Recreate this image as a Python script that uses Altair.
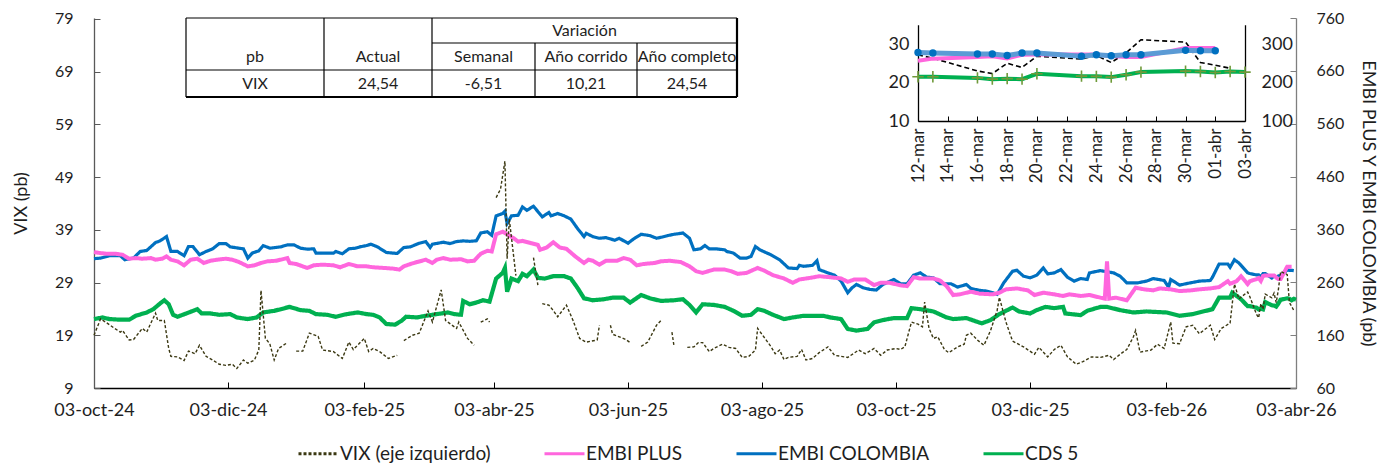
import altair as alt
import pandas as pd
from datetime import date, timedelta

# ---------------- data ----------------
START = date(2024, 10, 3)   # day 0 of the main chart
SERIES = ["VIX (eje izquierdo)", "EMBI PLUS", "EMBI COLOMBIA", "CDS 5"]

vix_days = [0, 3, 6, 9, 12, 13, 16, 18, 22, 24, 28, 29, 32, 34, 35, 38, 41, 43, 46, 48,
            51, 54, 57, 60, 63, 65, 68, 70, 73, 75, 76, 78, 80, 82, 84, 88, 90, 92, 95, 98,
            102, 104, 109, 113, 116, 118, 123, 125, 127, 130, 134, 138, 139, 141, 145, 148, 152, 154, 158, 160,
            165, 166, 170, 173, 174, 176, 179, 180, 181, 183, 185, 187, 188, 189, 192, 194, 200, 202, 203, 204,
            207, 209, 211, 215, 218, 221, 224, 229, 230, 232, 235, 236, 242, 244, 246, 249, 252, 256, 258, 260,
            263, 264, 267, 270, 273, 275, 277, 280, 282, 286, 289, 292, 295, 298, 301, 302, 308, 310, 312, 314,
            316, 320, 322, 324, 327, 330, 334, 337, 340, 343, 348, 351, 355, 358, 361, 365, 367, 369, 372, 375,
            377, 378, 380, 382, 384, 387, 389, 393, 396, 397, 399, 402, 405, 408, 411, 412, 415, 418, 423, 428,
            430, 434, 437, 440, 443, 447, 450, 454, 458, 462, 464, 467, 470, 473, 474, 476, 481, 484, 487, 490,
            491, 494, 497, 500, 503, 508, 510, 513, 517, 519, 521, 525, 526, 529, 530, 531, 532, 533, 536, 537,
            538, 539, 540, 543, 544, 545, 546]
vix_vals = [19.0, 22.1, 21.3, 20.4, 19.6, 19.9, 18.1, 18.2, 20.3, 19.6, 23.2, 21.8, 21.8, 16.5, 15.0, 14.9, 14.2, 16.0, 15.5, 17.1,
            15.0, 14.3, 13.5, 13.3, 13.5, 12.7, 14.3, 13.7, 14.3, 16.2, 27.5, 18.4, 17.4, 14.3, 16.5, 17.6, None, 16.0, 16.0, 19.4,
            18.8, 16.2, 15.9, 14.6, 17.7, 16.3, 18.4, 15.9, 16.5, 15.9, 14.6, 15.2, None, 18.0, 19.0, 19.4, 23.6, 21.5, 27.6, 21.8,
            20.3, 21.5, 18.4, 17.1, None, 21.5, 22.1, 21.5, None, 45.1, 46.7, 52.0, 33.5, 41.0, 30.3, None, 33.7, 28.5, None, 25.0,
            24.7, 23.7, 22.5, 24.7, 21.8, 18.4, 17.7, 18.1, 20.9, None, 20.9, 19.2, 18.2, 17.6, None, 16.9, 17.7, 20.9, 21.8, None,
            19.6, 16.8, None, 16.7, 16.8, 17.6, 17.6, 15.9, 16.5, 17.3, 16.7, 16.5, 14.8, 15.0, 16.2, 20.3, 16.9, 15.5, 16.2, 14.4,
            14.8, 15.0, 16.3, 14.3, 14.6, 15.7, 16.8, 15.2, 15.0, 14.8, 16.2, 15.5, 16.5, 15.2, 16.2, 16.5, 16.3, 16.8, 21.5, 21.1,
            20.6, 25.3, 20.3, 18.4, 18.7, 16.3, 15.7, 16.8, 17.3, 19.0, 19.4, 18.1, 17.1, 19.9, 23.7, 26.2, 21.5, 17.9, 16.8, 15.4,
            16.7, 14.9, 16.3, 17.1, 14.9, 13.5, 14.0, 14.9, 14.8, 15.2, 14.4, 15.4, 16.3, 18.7, 19.9, 15.8, 16.2, 17.3, 16.5, 21.5,
            17.5, 17.4, 20.6, 20.9, 19.3, 20.9, 18.2, 20.3, 21.3, 28.7, 25.9, 27.2, 26.3, 23.0, 22.3, 25.0, 23.9, 26.8, 26.1, 27.0,
            25.2, 27.7, 31.1, 30.5, 25.2, 24.5, 23.7]

embi_col_days = [0, 3, 7, 12, 14, 18, 21, 24, 28, 30, 33, 35, 38, 41, 43, 45, 48, 51, 54, 57,
                 60, 62, 66, 68, 70, 72, 75, 77, 80, 85, 88, 91, 94, 97, 100, 101, 106, 109, 110, 113,
                 116, 119, 121, 124, 126, 129, 133, 136, 138, 141, 144, 148, 151, 153, 154, 159, 162, 165, 168, 171,
                 174, 176, 179, 181, 183, 186, 187, 188, 190, 193, 195, 197, 200, 204, 207, 208, 211, 214, 217, 220,
                 223, 224, 227, 230, 233, 237, 239, 243, 246, 249, 253, 256, 258, 261, 264, 268, 271, 273, 276, 278,
                 280, 283, 287, 288, 291, 294, 297, 299, 301, 303, 308, 312, 316, 320, 321, 323, 327, 329, 330, 334,
                 337, 340, 343, 345, 347, 350, 353, 356, 359, 364, 367, 370, 373, 376, 379, 382, 385, 390, 393, 397,
                 399, 403, 406, 409, 411, 414, 418, 420, 423, 426, 429, 432, 434, 437, 440, 443, 446, 449, 452, 453,
                 458, 464, 467, 470, 475, 479, 482, 487, 489, 490, 494, 499, 503, 508, 509, 512, 516, 517, 519, 521,
                 525, 526, 529, 530, 531, 532, 533, 536, 537, 538, 539, 540, 543, 544, 545, 546]
embi_col_vals = [304.6, 305.8, 310.2, 310.2, 302.7, 305.8, 318.3, 320.2, 335.2, 338.3, 346.4, 318.3, 318.3, 310.2, 327.7, 327.7, 312.1, 318.3, 323.3, 333.3,
                 333.3, 327.0, 324.5, 323.3, 305.8, 315.2, 319.6, 329.5, 324.5, 327.0, 330.8, 330.8, 324.5, 322.7, 323.3, 315.2, 315.2, 315.2, 318.3, 313.9,
                 323.3, 324.5, 327.0, 329.5, 332.0, 327.0, 316.4, 315.2, 314.6, 325.8, 327.0, 333.9, 337.0, 325.8, 332.0, 335.8, 333.3, 337.0, 338.3, 337.5,
                 338.5, 353.3, 355.7, 349.0, 385.7, 390.1, 394.4, 371.3, 385.7, 386.9, 402.5, 396.3, 403.8, 383.8, 392.0, 385.7, 390.1, 385.7, 379.5, 362.0,
                 346.4, 352.6, 346.4, 343.3, 344.5, 339.5, 343.3, 333.9, 343.3, 350.8, 348.3, 343.3, 345.1, 348.3, 350.8, 353.2, 343.3, 321.4, 323.3, 329.5,
                 323.3, 323.3, 321.4, 318.3, 315.2, 305.8, 305.8, 308.9, 327.7, 321.4, 312.1, 302.7, 287.1, 285.9, 292.1, 290.2, 292.1, 300.8, 284.0, 277.8,
                 273.4, 262.2, 240.3, 249.7, 255.9, 249.7, 246.6, 245.3, 255.9, 265.3, 257.2, 257.2, 273.4, 277.8, 269.6, 268.4, 257.2, 257.2, 250.9, 255.9,
                 248.4, 244.7, 243.4, 240.3, 237.2, 259.0, 280.9, 282.7, 271.5, 268.4, 273.4, 287.1, 275.9, 277.8, 284.0, 269.6, 262.2, 267.1, 265.3, 277.8,
                 282.1, 277.8, 271.5, 259.0, 259.0, 262.2, 267.1, 263.4, 250.9, 265.3, 254.7, 259.0, 262.2, 263.4, 269.6, 294.6, 294.6, 288.4, 302.7, 296.5,
                 278.0, 276.5, 274.0, 274.0, 270.0, 276.5, 276.5, 268.0, 272.0, 269.5, 272.0, 272.0, 283.5, 282.6, 282.6, 282.0]

embi_plus_days = [0, 3, 6, 10, 13, 16, 19, 22, 26, 28, 31, 33, 35, 38, 41, 44, 47, 50, 53, 56,
                  60, 63, 66, 70, 73, 76, 79, 83, 88, 89, 92, 95, 97, 100, 104, 109, 112, 116, 120, 124,
                  127, 132, 136, 139, 141, 144, 147, 151, 154, 156, 159, 162, 167, 170, 173, 176, 179, 181, 183, 186,
                  188, 191, 193, 195, 199, 202, 203, 206, 209, 212, 215, 219, 223, 225, 227, 230, 233, 238, 241, 244,
                  247, 250, 255, 258, 262, 267, 271, 274, 277, 282, 287, 290, 293, 297, 302, 305, 309, 314, 318, 321,
                  326, 330, 335, 340, 343, 346, 351, 355, 358, 362, 367, 370, 373, 376, 382, 385, 388, 391, 394, 399,
                  403, 409, 412, 415, 420, 425, 428, 432, 437, 441, 444, 449, 453, 458, 460, 461, 462, 465, 470, 474,
                  478, 482, 485, 490, 494, 499, 503, 508, 512, 516, 517, 520, 522, 525, 526, 529, 530, 531, 532, 533,
                  536, 537, 538, 539, 540, 543, 544, 545]
embi_plus_vals = [317.1, 315.2, 313.9, 313.9, 312.1, 304.6, 305.8, 304.6, 305.8, 302.7, 304.6, 308.9, 302.7, 299.6, 292.1, 302.7, 304.6, 296.5, 300.8, 302.7,
                  304.6, 302.7, 298.3, 290.2, 292.1, 296.5, 299.6, 300.8, 305.8, 296.5, 294.6, 290.2, 287.1, 292.1, 293.4, 292.1, 288.4, 294.6, 290.2, 290.2,
                  288.4, 287.1, 285.9, 284.0, 290.2, 294.6, 298.3, 302.7, 296.5, 302.7, 305.8, 302.7, 303.6, 299.6, 300.8, 314.0, 319.6, 318.3, 350.8, 355.7,
                  350.8, 343.3, 337.0, 338.3, 333.9, 330.8, 321.4, 325.8, 335.8, 325.8, 323.3, 309.0, 296.5, 302.7, 300.8, 293.4, 300.8, 300.8, 305.8, 302.7,
                  292.1, 294.6, 296.5, 299.6, 300.8, 298.3, 290.2, 280.9, 277.8, 284.0, 284.0, 280.9, 275.9, 277.8, 287.1, 282.1, 273.4, 267.2, 259.0, 265.3,
                  268.4, 271.5, 269.6, 267.2, 260.9, 265.3, 265.3, 254.7, 259.0, 259.0, 254.3, 252.8, 269.6, 267.1, 267.1, 263.4, 252.8, 235.9, 237.2, 242.2,
                  238.5, 237.2, 240.3, 246.6, 248.4, 244.7, 235.9, 240.3, 237.2, 234.1, 237.2, 234.1, 235.9, 230.9, 229.1, 299.6, 229.1, 230.9, 226.0, 249.7,
                  246.6, 244.7, 248.4, 246.6, 243.4, 244.7, 246.6, 248.4, 250.9, 262.2, 257.2, 262.2, 271.5, 256.5, 262.0, 266.0, 268.0, 262.6, 272.0, 273.0,
                  273.0, 273.0, 269.0, 266.0, 266.0, 289.6, 289.6, 289.6]

cds_days = [0, 4, 7, 12, 16, 19, 24, 27, 30, 32, 34, 36, 38, 42, 47, 49, 53, 57, 62, 65,
            70, 74, 77, 82, 85, 89, 94, 98, 101, 106, 110, 115, 120, 124, 127, 130, 133, 137, 140, 142,
            147, 151, 156, 161, 164, 167, 168, 171, 174, 177, 180, 183, 186, 187, 188, 190, 193, 195, 197, 200,
            202, 205, 209, 214, 217, 220, 223, 227, 232, 236, 241, 244, 249, 253, 258, 264, 268, 271, 274, 277,
            282, 287, 291, 295, 299, 302, 305, 309, 314, 318, 323, 327, 332, 335, 340, 343, 347, 352, 355, 359,
            364, 370, 372, 376, 382, 388, 391, 397, 404, 408, 412, 418, 421, 426, 429, 433, 437, 441, 442, 449,
            452, 458, 461, 467, 473, 479, 488, 494, 500, 506, 509, 512, 517, 518, 522, 525, 526, 529, 530, 531,
            532, 533, 536, 537, 538, 539, 540, 543, 544, 545, 546, 547]
cds_vals = [190.4, 193.5, 190.4, 189.2, 189.2, 196.6, 202.9, 209.1, 219.7, 226.0, 218.5, 198.5, 194.8, 201.0, 209.1, 201.0, 201.0, 198.5, 199.8, 193.5,
            190.4, 193.5, 202.9, 206.0, 209.1, 213.5, 207.3, 206.0, 199.8, 198.5, 194.8, 199.8, 202.9, 199.8, 198.5, 193.5, 181.1, 179.8, 187.3, 194.8,
            193.5, 196.6, 199.8, 202.9, 199.8, 198.5, 224.7, 218.5, 221.6, 226.0, 223.5, 267.1, 277.8, 287.1, 242.2, 267.1, 262.2, 275.9, 271.5, 284.0,
            268.4, 267.1, 271.5, 271.5, 267.1, 249.7, 229.7, 226.0, 227.9, 230.9, 230.9, 221.6, 235.9, 229.7, 224.7, 226.0, 227.9, 217.2, 202.9, 218.5,
            217.2, 213.5, 206.0, 196.6, 198.5, 209.1, 206.0, 198.5, 190.4, 193.5, 196.6, 196.6, 196.6, 193.5, 190.4, 171.7, 168.6, 171.7, 184.2, 188.5,
            192.3, 192.3, 211.0, 209.1, 204.8, 193.5, 190.4, 192.3, 182.3, 188.5, 199.8, 212.2, 204.8, 201.0, 207.3, 213.5, 211.0, 213.5, 201.0, 197.9,
            206.0, 213.5, 213.5, 207.3, 202.9, 204.8, 202.9, 196.6, 199.8, 206.0, 209.1, 231.0, 231.0, 240.3, 227.9, 214.8, 214.8, 212.0, 208.7, 210.0,
            208.7, 222.6, 216.5, 216.0, 214.0, 220.0, 227.0, 229.6, 228.7, 226.0, 228.7, 227.0]

# inset (last weeks)
inset_dates = ["2026-03-12", "2026-03-13", "2026-03-16", "2026-03-17", "2026-03-18", "2026-03-19",
               "2026-03-20", "2026-03-23", "2026-03-24", "2026-03-25", "2026-03-26", "2026-03-27",
               "2026-03-30", "2026-03-31", "2026-04-01", "2026-04-02", "2026-04-03"]
inset_vix = [27.2, 26.3, 23.0, 22.3, 25.0, 23.9, 26.8, 26.1, 27.0, 25.2, 27.7, 31.1, 30.5, 25.2, 24.5, 23.7, None]
inset_embi_plus = [256.5, 262.0, 266.0, 268.0, 262.6, 272.0, 273.0, 273.0, 273.0, 269.0, 266.0, 266.0, 289.6, 289.6, 289.6, None, None]
inset_embi_col = [278.0, 276.5, 274.0, 274.0, 270.0, 276.5, 276.5, 268.0, 272.0, 269.5, 272.0, 272.0, 283.5, 282.6, 282.6, None, None]
inset_cds = [214.8, 214.8, 212.0, 208.7, 210.0, 208.7, 222.6, 216.5, 216.0, 214.0, 220.0, 227.0, 229.6, 228.7, 226.0, 228.7, 227.0]

# table
table_group = "Variación"
table_header = ["pb", "Actual", "Semanal", "Año corrido", "Año completo"]
table_row = ["VIX", "24,54", "-6,51", "10,21", "24,54"]

# axis tick labels
left_ticks = [9, 19, 29, 39, 49, 59, 69, 79]
right_ticks = [60, 160, 260, 360, 460, 560, 660, 760]
inset_left_ticks = [10, 20, 30]
inset_right_ticks = [100, 200, 300]

# ---------------- styling / layout ----------------
FONT = "Lato"
TXT = "#1e1e1e"
COLORS = ["#3b3812", "#ff66dd", "#0070c0", "#00b050"]
WIDTHS = {"EMBI PLUS": 4.0, "EMBI COLOMBIA": 3.2, "CDS 5": 4.2}
W, H = 1202, 370
SHIFT = 4          # plot top sits 4 px lower than the reference's 14 px


def dt(y, m, d):
    return alt.DateTime(year=y, month=m, date=d, utc=True)


def to_dates(days):
    return [(START + timedelta(days=int(d))).isoformat() for d in days]


df_vix = pd.DataFrame({"date": to_dates(vix_days), "value": vix_vals, "series": SERIES[0]})
parts = []
for name, dd, vv in [("CDS 5", cds_days, cds_vals),
                     ("EMBI COLOMBIA", embi_col_days, embi_col_vals),
                     ("EMBI PLUS", embi_plus_days, embi_plus_vals)]:
    p = pd.DataFrame({"date": to_dates(dd), "value": vv, "series": name})
    p["sw"] = WIDTHS[name]
    parts.append(p)
df_right = pd.concat(parts, ignore_index=True)

df_in = pd.DataFrame({"date": inset_dates, "vix": inset_vix, "plus": inset_embi_plus,
                      "col": inset_embi_col, "cds": inset_cds})

MES = "['ene','feb','mar','abr','may','jun','jul','ago','sep','oct','nov','dic']"
main_label = "utcFormat(datum.value, '%d') + '-' + " + MES + "[utcmonth(datum.value)] + '-' + utcFormat(datum.value, '%y')"
inset_label = "utcFormat(datum.value, '%d') + '-' + " + MES + "[utcmonth(datum.value)]"

main_ticks = [dt(2024, 10, 3), dt(2024, 12, 3), dt(2025, 2, 3), dt(2025, 4, 3), dt(2025, 6, 3),
              dt(2025, 8, 3), dt(2025, 10, 3), dt(2025, 12, 3), dt(2026, 2, 3), dt(2026, 4, 3)]
inset_ticks = [dt(2026, 3, d) for d in range(12, 32, 2)] + [dt(2026, 4, 1), dt(2026, 4, 3)]

x_main = alt.Scale(type="utc", domain=[dt(2024, 10, 3), dt(2026, 4, 3)])
y_left = alt.Scale(domain=[9, 79.15], nice=False, zero=False)
y_right = alt.Scale(domain=[60, 760], nice=False, zero=False)
IN_X = [824, 1151]
IN_Y = [107 - SHIFT, 10.75 - SHIFT]
x_in = alt.Scale(type="utc", domain=[dt(2026, 3, 12), dt(2026, 4, 3)], range=IN_X)
y_in_l = alt.Scale(domain=[10, 35], range=IN_Y, nice=False, zero=False)
y_in_r = alt.Scale(domain=[100, 350], range=IN_Y, nice=False, zero=False)

color_scale = alt.Scale(domain=SERIES, range=COLORS)
dash_scale = alt.Scale(domain=SERIES, range=[[3, 2], [1, 0], [1, 0], [1, 0]])
color_enc = alt.Color("series:N", scale=color_scale, legend=alt.Legend(title=None))
dash_enc = alt.StrokeDash("series:N", scale=dash_scale, legend=alt.Legend(title=None))

# main right-axis series
right_main = alt.Chart(df_right).mark_line(interpolate="linear").encode(
    x=alt.X("date:T", scale=x_main, axis=None),
    y=alt.Y("value:Q", scale=y_right,
            axis=alt.Axis(orient="right", values=right_ticks, title="EMBI PLUS Y EMBI COLOMBIA  (pb)",
                          tickSize=0, labelPadding=20, titlePadding=15, labelFontSize=16, titleFontSize=18,
                          domainColor="#7f7f7f")),
    color=color_enc,
    strokeDash=dash_enc,
    strokeWidth=alt.StrokeWidth("sw:Q", scale=None, legend=None),
)

# main VIX (left axis)
vix_main = alt.Chart(df_vix).mark_line(strokeWidth=1.4, invalid="break-paths-show-domains").encode(
    x=alt.X("date:T", scale=x_main,
            axis=alt.Axis(orient="bottom", values=main_ticks, labelExpr=main_label, tickSize=0,
                          labelPadding=13, labelFontSize=18, title=None, labelFlush=False,
                          labelOverlap=False, domainColor="#000000")),
    y=alt.Y("value:Q", scale=y_left,
            axis=alt.Axis(orient="left", values=left_ticks, title="VIX (pb)", tickSize=0,
                          labelPadding=21, titlePadding=24, labelFontSize=16, titleFontSize=18,
                          domainColor="#595959")),
    color=color_enc,
    strokeDash=dash_enc,
)

tick_df = pd.DataFrame({"date": ["2025-01-01"], "a": [20], "b": [200]})
ticks1 = alt.Chart(tick_df).mark_point(opacity=0).encode(
    x=alt.X("date:T", scale=x_main,
            axis=alt.Axis(orient="top", offset=-H, values=main_ticks, labels=False, domain=False,
                          tickSize=6, tickColor="#000000", title=None)),
    y=alt.Y("a:Q", scale=y_left,
            axis=alt.Axis(orient="right", offset=-W, values=left_ticks, labels=False, domain=False,
                          tickSize=6, tickColor="#595959", title=None)),
)
ticks2 = alt.Chart(tick_df).mark_point(opacity=0).encode(
    x=alt.X("date:T", scale=x_in,
            axis=alt.Axis(orient="top", offset=-IN_Y[0], values=inset_ticks, labels=False, domain=False,
                          tickSize=5, tickColor="#000000", title=None)),
    y=alt.Y("b:Q", scale=y_right,
            axis=alt.Axis(orient="left", offset=-W, values=right_ticks, labels=False, domain=False,
                          tickSize=6, tickColor="#7f7f7f", title=None)),
)

# inset
base_in = alt.Chart(df_in)
in_vix = base_in.mark_line(color="#000000", strokeWidth=1.6, strokeDash=[5, 3]).encode(
    x=alt.X("date:T", scale=x_in,
            axis=alt.Axis(orient="bottom", offset=-(H - IN_Y[0]), values=inset_ticks, labelExpr=inset_label,
                          labelAngle=270, tickSize=0, labelPadding=7, labelFontSize=17, title=None,
                          labelFlush=False, labelOverlap=False, domainColor="#000000")),
    y=alt.Y("vix:Q", scale=y_in_l,
            axis=alt.Axis(orient="left", offset=-IN_X[0], values=inset_left_ticks, tickSize=0,
                          labelPadding=9, labelFontSize=18, title=None, domainColor="#000000")),
)
in_cds = base_in.mark_line(color="#00b050", strokeWidth=4).encode(
    x=alt.X("date:T", scale=x_in, axis=None),
    y=alt.Y("cds:Q", scale=y_in_r,
            axis=alt.Axis(orient="right", offset=-(W - IN_X[1]), values=inset_right_ticks, tickSize=0,
                          labelPadding=16, labelFontSize=18, title=None, domainColor="#000000")),
)
in_plus = base_in.mark_line(color="#ff66dd", strokeWidth=4).encode(
    x=alt.X("date:T", scale=x_in, axis=None),
    y=alt.Y("plus:Q", scale=y_in_r, axis=None),
)
in_col = base_in.mark_line(color="#5b9bd5", strokeWidth=5).encode(
    x=alt.X("date:T", scale=x_in, axis=None),
    y=alt.Y("col:Q", scale=y_in_r, axis=None),
)
in_col_pts = base_in.mark_circle(color="#0070c0", size=55, opacity=1).encode(
    x=alt.X("date:T", scale=x_in, axis=None),
    y=alt.Y("col:Q", scale=y_in_r, axis=None),
)
in_cds_pts = base_in.mark_point(shape="M-1,0L1,0M0,-1L0,1", filled=False, color="#6f9a3a",
                                strokeWidth=1.6, size=130, opacity=1).encode(
    x=alt.X("date:T", scale=x_in, axis=None),
    y=alt.Y("cds:Q", scale=y_in_r, axis=None),
)

# table (layout in pixels relative to the plot area)
TX = [92, 230, 338, 441, 543, 643]
TY = [4 - SHIFT, 29 - SHIFT, 56 - SHIFT, 83 - SHIFT]
cx = [(TX[i] + TX[i + 1]) / 2 for i in range(5)]
cy = [(TY[i] + TY[i + 1]) / 2 for i in range(3)]
txt_rows = [{"x": (TX[2] + TX[5]) / 2, "y": cy[0], "t": table_group}]
txt_rows += [{"x": cx[i], "y": cy[1], "t": table_header[i]} for i in range(5)]
txt_rows += [{"x": cx[i], "y": cy[2], "t": table_row[i]} for i in range(5)]
df_txt = pd.DataFrame(txt_rows)
rule_rows = [
    (TX[0], TY[0], TX[5], TY[0], 1.2), (TX[2], TY[1], TX[5], TY[1], 1.2),
    (TX[0], TY[2], TX[5], TY[2], 1.2), (TX[0], TY[3], TX[5], TY[3], 2.2),
    (TX[0], TY[0], TX[0], TY[3], 1.2), (TX[1], TY[0], TX[1], TY[3], 1.2),
    (TX[2], TY[0], TX[2], TY[3], 1.2), (TX[3], TY[1], TX[3], TY[3], 1.2),
    (TX[4], TY[1], TX[4], TY[3], 1.2), (TX[5], TY[0], TX[5], TY[3], 2.2),
]
df_rules = pd.DataFrame(rule_rows, columns=["x", "y", "x2", "y2", "w"])
tab_rules = alt.Chart(df_rules).mark_rule(color="#000000").encode(
    x=alt.X("x:Q", scale=None), y=alt.Y("y:Q", scale=None),
    x2="x2:Q", y2="y2:Q",
    strokeWidth=alt.StrokeWidth("w:Q", scale=None, legend=None),
)
tab_text = alt.Chart(df_txt).mark_text(font=FONT, fontSize=16, color=TXT, align="center",
                                       baseline="middle").encode(
    x=alt.X("x:Q", scale=None), y=alt.Y("y:Q", scale=None), text="t:N",
)

chart = alt.layer(
    right_main, vix_main, ticks1, ticks2,
    in_vix, in_cds, in_plus, in_col, in_col_pts, in_cds_pts,
    tab_rules, tab_text,
).resolve_scale(
    x="independent", y="independent"
).properties(
    width=W, height=H,
    autosize=alt.AutoSizeParams(type="none"),
    padding={"left": 86, "top": 6 + SHIFT, "right": 92, "bottom": 77},
).configure_view(
    stroke=None
).configure_axis(
    grid=False, labelFont=FONT, titleFont=FONT, labelColor=TXT, titleColor=TXT,
    titleFontWeight="normal", domainWidth=1.3,
).configure_legend(
    orient="none", legendX=203, legendY=414, direction="horizontal",
    symbolType="stroke", symbolSize=1600, symbolStrokeWidth=3,
    labelFont=FONT, labelFontSize=19, labelColor=TXT, columnPadding=47, labelOffset=0,
    padding=0, labelLimit=0,
)

chart.save("out.html", embed_options={"renderer": "svg", "actions": False})
